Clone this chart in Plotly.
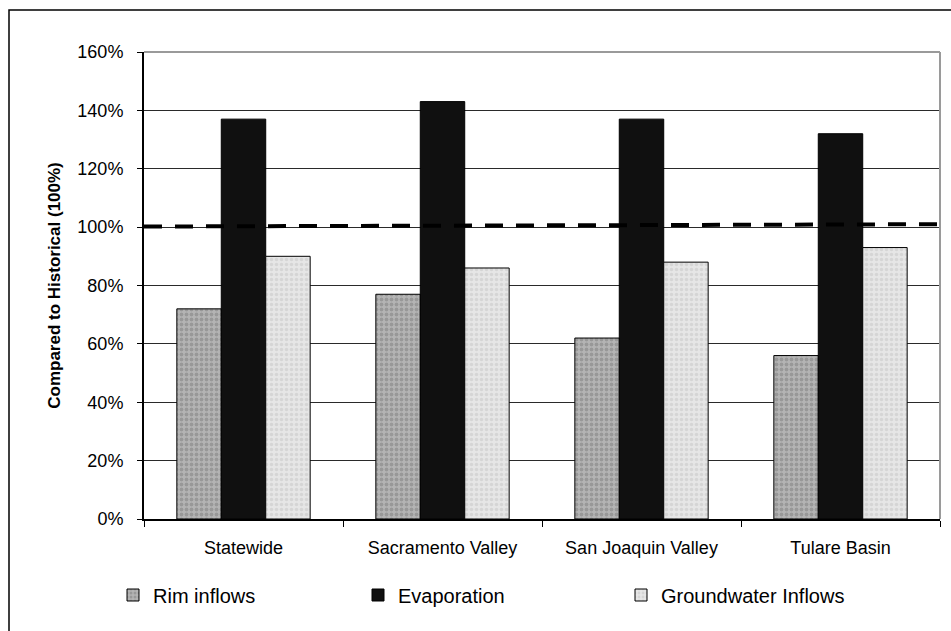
import plotly.graph_objects as go

# Regional water balance components relative to historical conditions
categories = ["Statewide", "Sacramento Valley", "San Joaquin Valley", "Tulare Basin"]
rim_inflows = [72, 77, 62, 56]
evaporation = [137, 143, 137, 132]
groundwater_inflows = [90, 86, 88, 93]

# Historical reference level (100%), drawn across the plot width
historical_x = [0, 1]
historical_y = [100.2, 101.0]

y_ticks = [0, 20, 40, 60, 80, 100, 120, 140, 160]
y_tick_labels = ["0%", "20%", "40%", "60%", "80%", "100%", "120%", "140%", "160%"]

FONT = "Liberation Sans, Arial, sans-serif"

fig = go.Figure()

fig.add_trace(go.Bar(
    x=categories, y=rim_inflows, name="Rim inflows",
    marker=dict(color="#a9a9a9", line=dict(color="#000", width=1),
                pattern=dict(shape=".", fgcolor="#7c7c7c", bgcolor="#b4b4b4",
                             size=5, solidity=0.45)),
    legend="legend",
))
fig.add_trace(go.Bar(
    x=categories, y=evaporation, name="Evaporation",
    marker=dict(color="#101010", line=dict(color="#000", width=1)),
    legend="legend2",
))
fig.add_trace(go.Bar(
    x=categories, y=groundwater_inflows, name="Groundwater Inflows",
    marker=dict(color="#dedede", line=dict(color="#000", width=1),
                pattern=dict(shape=".", fgcolor="#c4c4c4", bgcolor="#e6e6e6",
                             size=5, solidity=0.4)),
    legend="legend3",
))

# Dashed historical line on an overlaid 0..1 axis
fig.add_trace(go.Scatter(
    x=historical_x, y=historical_y, mode="lines", xaxis="x2",
    line=dict(color="#000", width=4, dash="18px,13px"),
    showlegend=False, hoverinfo="skip",
))

legend_common = dict(
    orientation="h", xref="container", yref="container",
    yanchor="middle", xanchor="left",
    font=dict(family=FONT, size=20, color="#000"),
    bgcolor="rgba(0,0,0,0)", itemwidth=30, tracegroupgap=0,
)

fig.update_layout(
    width=951, height=631,
    margin=dict(l=144, r=11, t=52, b=112),
    paper_bgcolor="#fff", plot_bgcolor="#fff",
    barmode="group", bargap=0.33, bargroupgap=0,
    font=dict(family=FONT, size=18, color="#000"),
    xaxis=dict(
        type="category", showgrid=False, showline=True, linecolor="#000",
        linewidth=2, ticks="outside", tickson="boundaries", ticklen=6,
        tickcolor="#000", tickwidth=1, ticklabelstandoff=11,
        tickfont=dict(family=FONT, size=18), range=[-0.5, 3.5],
    ),
    xaxis2=dict(overlaying="x", range=[0, 1], visible=False),
    yaxis=dict(
        range=[0, 160], tickmode="array", tickvals=y_ticks, ticktext=y_tick_labels,
        showgrid=True, gridcolor="#2a2a2a", gridwidth=1,
        zeroline=False, showline=True, linecolor="#000", linewidth=2,
        ticks="outside", ticklen=5, tickcolor="#000", ticklabelstandoff=10,
        tickfont=dict(family=FONT, size=18),
        title=dict(text="<b>Compared to Historical (100%)</b>",
                   font=dict(family=FONT, size=17), standoff=12),
    ),
    legend=dict(x=113 / 951, y=1 - 595 / 631, **legend_common),
    legend2=dict(x=358 / 951, y=1 - 595 / 631, **legend_common),
    legend3=dict(x=621 / 951, y=1 - 595 / 631, **legend_common),
    showlegend=True,
)

# Plot area frame: gray top and right edges
fig.add_shape(type="line", xref="paper", yref="paper", x0=0, x1=1, y0=1, y1=1,
              line=dict(color="#9a9a9a", width=2))
fig.add_shape(type="line", xref="paper", yref="paper", x0=1, x1=1, y0=0, y1=1,
              line=dict(color="#9a9a9a", width=2))

# Outer chart border
fig.add_shape(type="rect", xref="paper", yref="paper",
              x0=(9 - 144) / 796, x1=1.1, y0=-0.4, y1=(518.7 - 10) / 466.7,
              line=dict(color="#000", width=1.5), fillcolor="rgba(0,0,0,0)",
              layer="below")

fig.write_html("out.html")
